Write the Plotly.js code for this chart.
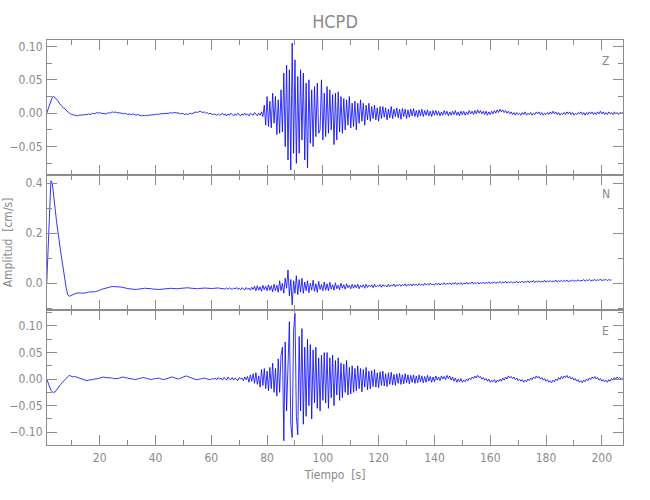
<!DOCTYPE html>
<html>
<head>
<meta charset="utf-8">
<script src="https://cdn.plot.ly/plotly-3.0.1.min.js"></script>
<style>body{margin:0;padding:0;background:#fff}#chart{width:650px;height:500px}</style>
</head>
<body>
<div id="chart"></div>
<script>
// Station / components
const station = "HCPD";
const components = ["Z", "N", "E"];
// Sampling of the traces (seconds)
const timeStart = 1.0;
const timeStep = 0.5;
// Velocity traces (cm/s), one sample every timeStep seconds from timeStart
const zVel = [
.000,.006,.015,.021,.024,.025,.023,.021,.019,.015,.012,.010,.008,.007,.004,.002,.000,-.001,-.002,-.003,
-.003,-.003,-.004,-.003,-.003,-.003,-.002,-.003,-.002,-.002,-.001,-.002,-.001,.000,-.001,.000,.001,.000,.001,.000,
.000,-.001,.000,-.001,.001,.000,.001,.002,.001,.002,.001,.001,.000,.001,.000,-.001,.000,-.001,-.002,-.001,
-.002,-.002,-.001,-.002,-.003,-.002,-.003,-.003,-.004,-.003,-.004,-.003,-.004,-.003,-.003,-.002,-.003,-.002,-.002,-.001,
-.002,-.001,-.001,.000,-.001,.000,.000,-.001,.000,.001,.000,.001,.001,.000,.001,.000,-.001,.000,-.001,-.002,
-.001,-.002,-.001,.000,-.001,.000,.001,.002,.001,.002,.003,.002,.001,.002,.000,.001,-.001,.000,-.001,-.002,
-.001,-.002,-.003,-.001,-.003,-.002,.000,-.003,-.001,-.004,-.001,-.003,.000,-.002,-.004,-.001,-.003,.000,-.002,-.004,
-.001,-.003,.000,-.003,-.001,-.004,.000,-.002,-.003,.001,-.002,-.004,.000,-.003,.002,-.005,.012,-.018,.025,-.020,
.018,-.022,.030,-.015,.025,-.032,.020,-.030,.035,-.028,.060,-.050,.072,-.070,.065,-.085,.105,-.060,.080,-.075,
.055,-.060,.065,-.040,.060,-.070,.045,-.082,.050,-.045,.035,-.050,.040,-.035,.045,-.030,-.025,.050,-.040,.030,
-.035,.040,-.030,.035,-.025,.028,-.047,.030,-.040,.032,-.028,.025,-.030,.022,-.025,.020,-.018,.025,-.022,.015,
-.020,.018,-.025,.015,-.015,.020,-.012,.015,-.018,.012,-.010,.015,-.012,.010,-.008,.012,-.010,.008,-.012,.010,
-.008,.010,-.006,.008,-.010,.006,-.007,.010,-.008,.006,-.005,.008,-.007,.006,-.009,.007,-.005,.006,-.008,.005,
-.006,.006,-.004,.007,-.005,.004,-.006,.005,-.004,.006,-.005,.004,-.003,.005,-.004,.003,-.005,.004,-.003,.004,
-.003,.003,-.004,.002,-.003,.004,-.002,.003,-.004,.002,-.003,.003,-.002,.004,-.003,.002,-.004,.003,-.002,.003,
-.003,.002,-.002,.004,-.001,.003,-.002,.004,-.001,.005,.000,.004,-.001,.003,-.002,.003,-.003,.002,-.002,.003,
-.001,.004,.000,.005,.001,.006,.002,.005,.001,.004,.000,.003,-.001,.002,-.002,.001,-.003,.001,-.002,.000,
-.003,.001,-.002,.002,-.003,.000,-.002,.001,-.003,.000,-.002,.002,-.001,.002,-.002,.001,-.003,.000,-.002,.001,
-.002,.002,-.001,.003,-.001,.002,-.002,.001,-.003,.000,-.002,.001,-.002,.002,-.001,.002,-.002,.001,-.003,.000,
-.002,.001,-.001,.002,-.002,.001,-.003,.001,-.002,.002,-.001,.002,-.002,.001,-.002,.002,-.001,.003,-.001,.002,
-.002,.001,-.002,.002,-.001,.001,-.002,.002,-.001,.001,-.002,.001,.000,.001
];
const nVel = [
.000,.150,.330,.410,.400,.360,.300,.250,.200,.160,.125,.090,.050,.015,-.020,-.045,-.052,-.050,-.047,-.044,
-.042,-.040,-.039,-.038,-.038,-.039,-.040,-.040,-.039,-.037,-.035,-.034,-.033,-.033,-.034,-.034,-.033,-.031,-.028,-.025,
-.023,-.021,-.020,-.018,-.017,-.015,-.014,-.013,-.013,-.012,-.012,-.013,-.014,-.015,-.016,-.018,-.019,-.020,-.021,-.022,
-.023,-.024,-.024,-.025,-.025,-.024,-.024,-.023,-.022,-.021,-.020,-.020,-.019,-.020,-.021,-.022,-.023,-.024,-.025,-.025,
-.026,-.025,-.024,-.023,-.022,-.021,-.020,-.019,-.019,-.020,-.021,-.022,-.022,-.023,-.022,-.021,-.020,-.019,-.018,-.018,
-.017,-.018,-.019,-.020,-.021,-.022,-.023,-.023,-.022,-.021,-.020,-.019,-.018,-.018,-.019,-.020,-.021,-.022,-.022,-.021,
-.020,-.019,-.018,-.019,-.020,-.021,-.022,-.020,-.023,-.019,-.024,-.018,-.022,-.025,-.019,-.023,-.017,-.024,-.020,-.026,
-.018,-.023,-.027,-.017,-.024,-.019,-.028,-.016,-.025,-.012,-.030,-.010,-.028,-.014,-.032,-.008,-.026,-.012,-.030,-.006,
-.028,-.010,-.034,-.004,-.030,-.008,-.036,.010,-.030,.000,-.040,.020,-.020,.053,-.050,.015,-.087,.010,-.040,.030,
-.045,.015,-.035,.020,-.040,.005,-.030,.010,-.038,.000,-.028,.012,-.032,-.002,-.036,.008,-.025,-.005,-.030,.005,
-.028,-.002,-.030,.004,-.024,-.006,-.028,.002,-.022,-.008,-.026,.000,-.020,-.006,-.024,-.002,-.018,-.008,-.022,-.004,
-.020,-.006,-.018,-.004,-.022,-.008,-.016,-.006,-.020,-.004,-.017,-.008,-.014,-.006,-.018,-.004,-.015,-.009,-.013,-.005,
-.016,-.006,-.012,-.008,-.015,-.004,-.013,-.007,-.011,-.003,-.014,-.006,-.010,-.004,-.012,-.005,-.010,-.002,-.012,-.004,
-.009,-.003,-.011,-.002,-.008,-.004,-.010,-.001,-.008,-.003,-.009,.000,-.007,-.002,-.008,.001,-.006,-.003,-.008,.000,
-.006,.001,-.007,-.001,-.005,.002,-.006,.000,-.004,.002,-.006,.001,-.004,.003,-.005,.000,-.003,.003,-.005,.001,
-.003,.004,-.004,.002,-.002,.005,-.003,.002,-.001,.004,-.003,.003,-.001,.005,-.002,.003,.000,.006,-.002,.004,
.000,.006,-.001,.004,.001,.007,.000,.005,.002,.008,.000,.006,.002,.007,.001,.005,.003,.008,.001,.006,
.003,.009,.002,.007,.004,.010,.002,.008,.005,.011,.003,.009,.005,.010,.004,.008,.006,.012,.004,.010,
.006,.011,.005,.009,.007,.013,.005,.010,.007,.012,.006,.011,.008,.013,.006,.010,.008,.014,.007,.011,
.009,.014,.008,.012,.010,.015,.008,.013,.010,.016,.009,.013,.011,.016,.009,.014,.011,.017,.010,.014,
.012,.016,.010,.015,.012,.014
];
const eVel = [
.000,-.008,-.016,-.021,-.024,-.025,-.024,-.020,-.017,-.014,-.010,-.007,-.004,-.001,.003,.006,.007,.006,.005,.004,
.005,.004,.003,.002,.001,.000,-.001,-.002,-.003,-.003,-.002,-.002,-.001,-.001,.000,.000,.001,.001,.002,.003,
.004,.004,.003,.003,.002,.002,.003,.002,.001,.001,.000,.001,.002,.003,.004,.004,.003,.003,.002,.001,
.001,.000,.000,-.001,-.001,.000,.001,.001,.002,.003,.003,.002,.001,.000,-.001,-.001,.000,.001,.001,.001,
.002,.001,.000,.000,-.001,.000,.001,.002,.003,.004,.004,.003,.002,.001,.000,.001,.002,.003,.004,.005,
.006,.005,.004,.002,.001,.000,.000,-.001,-.001,.000,.000,.001,.001,.002,.001,.000,.000,-.001,.000,.001,
.000,.002,-.001,.003,.000,.002,-.002,.003,.001,-.002,.004,.000,-.001,.003,-.002,.002,.000,-.003,.003,.000,
.002,-.003,.004,-.001,.005,-.006,.008,-.004,.010,-.008,.012,-.010,.006,-.015,.018,-.012,.020,-.018,.015,-.022,
.022,-.018,.030,-.025,.020,-.032,.038,-.025,.045,.060,-.116,.070,-.060,.050,.108,-.085,-.110,.090,.124,-.070,
-.105,.080,-.060,.095,-.085,.060,-.070,.075,-.050,.065,-.075,.055,-.045,.060,-.055,.040,-.060,.045,-.040,.050,
-.045,.050,-.055,.040,-.035,.045,-.050,.035,-.030,.040,-.040,.030,-.035,.028,-.025,.035,-.030,.022,-.028,.025,
-.025,.020,-.022,.025,-.018,.020,-.024,.018,-.015,.022,-.020,.015,-.018,.016,-.014,.018,-.015,.012,-.016,.014,
-.012,.015,-.013,.010,-.014,.012,-.010,.013,-.011,.009,-.012,.010,-.008,.011,-.010,.008,-.009,.010,-.007,.008,
-.009,.007,-.006,.008,-.008,.006,-.007,.008,-.005,.006,-.007,.005,-.006,.007,-.004,.005,-.006,.004,-.005,.006,
-.002,.004,-.003,.006,.000,.005,-.001,.007,.001,.006,-.002,.004,-.004,.002,-.006,.000,-.005,.001,-.006,-.002,
-.005,.000,-.003,.002,-.001,.004,.001,.006,.002,.007,.003,.005,.000,.003,-.002,.001,-.004,.000,-.006,-.002,
-.005,-.001,-.007,-.002,-.005,.000,-.004,.002,-.002,.004,.000,.006,.002,.005,.001,.004,-.001,.002,-.003,.000,
-.004,-.001,-.006,-.002,-.005,.000,-.003,.002,-.001,.004,.001,.006,.002,.005,.000,.003,-.002,.001,-.004,-.001,
-.006,-.003,-.007,-.002,-.005,.000,-.003,.003,-.001,.005,.001,.006,.003,.007,.002,.005,.000,.003,-.002,.001,
-.004,-.001,-.006,-.003,-.007,-.002,-.005,.000,-.003,.002,-.001,.004,.001,.005,.000,.003,-.002,.001,-.004,-.001,
-.005,-.002,-.006,-.001,-.004,.001,-.002,.003,.000,.004,.001,.003,.000,.002
];
// Axis ranges and tick spacing
const xRange = [1.1, 207.6];
const yRanges = [[-0.0925, 0.1096], [-0.107, 0.433], [-0.124, 0.130]];
const yMajor = [0.05, 0.2, 0.05];
const yMinor = [0.025, 0.1, 0.025];
const yFormat = [".2f", ".1f", ".2f"];
const xMajor = 20, xMinor = 10;
const titleText = station;
const xTitle = "Tiempo  [s]";
const yTitle = "Amplitud  [cm/s]";

const series = [zVel, nVel, eVel];
const gray = "#8c8c8c";
const txt = "#8a8a8a";
const fontFam = "'DejaVu Sans Condensed', 'Liberation Sans Narrow', 'Open Sans', sans-serif";

const traces = series.map((v, k) => ({
  type: "scatter", mode: "lines",
  x: v.map((_, i) => timeStart + i * timeStep),
  y: v,
  xaxis: k === 0 ? "x" : "x" + (k + 1),
  yaxis: k === 0 ? "y" : "y" + (k + 1),
  line: {color: "#0000ff", width: 0.8},
  hoverinfo: "skip", showlegend: false
}));

const layout = {
  width: 650, height: 500,
  margin: {l: 47, r: 27, t: 40, b: 55, pad: 0},
  paper_bgcolor: "#fff", plot_bgcolor: "#fff",
  font: {family: fontFam, color: txt, size: 12},
  title: {text: titleText, x: 0.5, xref: "paper", y: 0.956, yanchor: "middle",
          font: {size: 18, color: txt, family: fontFam}},
  annotations: [],
  showlegend: false
};
const doms = [[2/3, 1], [1/3, 2/3], [0, 1/3]];
for (let k = 0; k < 3; k++) {
  const xs = k === 0 ? "xaxis" : "xaxis" + (k + 1);
  const ys = k === 0 ? "yaxis" : "yaxis" + (k + 1);
  layout[xs] = {
    domain: [0, 1], anchor: k === 0 ? "y" : "y" + (k + 1),
    range: xRange, tick0: 0, dtick: xMajor, ticks: "inside", ticklen: 10, tickwidth: 1,
    tickcolor: gray, showline: true, linecolor: gray, linewidth: 1, mirror: "ticks",
    showgrid: false, zeroline: false, showticklabels: k === 2,
    tickfont: {size: 12, color: txt}, ticklabelstandoff: 2,
    minor: {ticks: "inside", dtick: xMinor, tick0: 0, ticklen: 5, tickcolor: gray, showgrid: false}
  };
  layout[ys] = {
    domain: doms[k], anchor: k === 0 ? "x" : "x" + (k + 1),
    range: yRanges[k], tick0: 0, dtick: yMajor[k], tickformat: yFormat[k],
    ticks: "inside", ticklen: 10, tickwidth: 1, tickcolor: gray,
    showline: true, linecolor: gray, linewidth: 1, mirror: "ticks",
    showgrid: false, zeroline: false, tickfont: {size: 12, color: txt}, ticklabelstandoff: 1,
    minor: {ticks: "inside", dtick: yMinor[k], tick0: 0, ticklen: 5, tickcolor: gray, showgrid: false}
  };
}
layout.xaxis3.title = {text: xTitle, standoff: 6, font: {size: 12, color: txt}};
layout.annotations.push({text: yTitle, xref: "paper", yref: "paper", x: -0.068, y: 0.5,
  xanchor: "center", yanchor: "middle", textangle: -90, showarrow: false, font: {size: 12, color: txt}});
const labelY = [0.948, 0.620, 0.281];
components.forEach((c, k) => layout.annotations.push({text: c, xref: "paper", yref: "paper",
  x: 0.970, y: labelY[k], xanchor: "center", yanchor: "middle", showarrow: false,
  font: {size: 12, color: txt}}));

Plotly.newPlot("chart", traces, layout, {staticPlot: true, displayModeBar: false});
</script>
</body>
</html>
